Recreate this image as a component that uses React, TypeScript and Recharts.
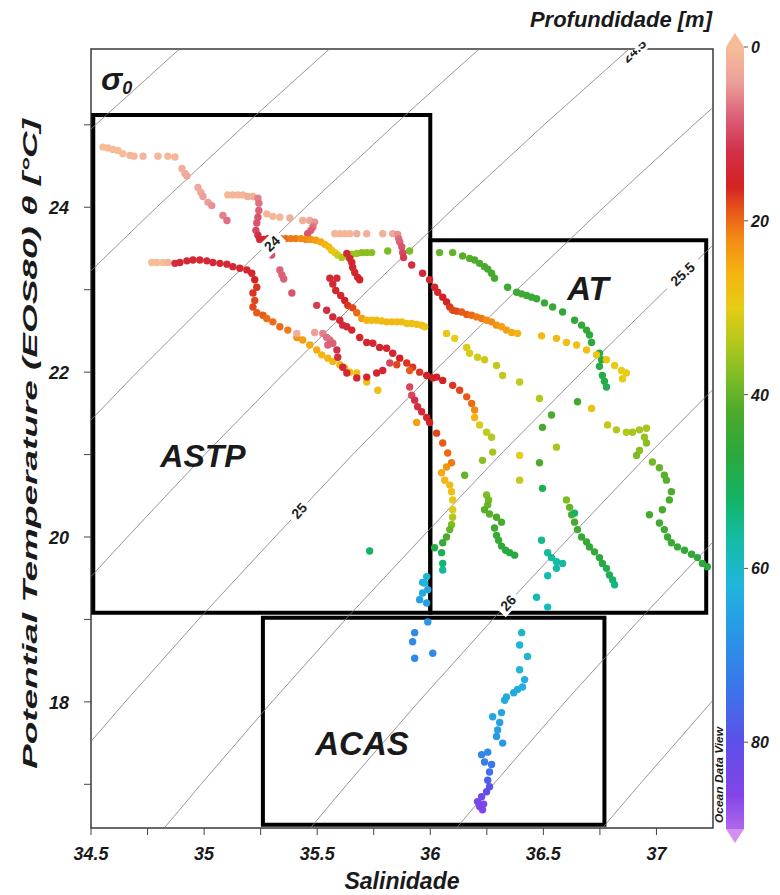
import React from 'react';
import { ScatterChart, Scatter, XAxis, YAxis, ReferenceArea, ReferenceDot } from 'recharts';

// [salinity, potential temperature, depth (m)]
type P = [number, number, number];

const castA: P[] = [
  [34.553, 24.73, 0], [34.575, 24.72, 0], [34.597, 24.7, 0], [34.619, 24.69, 0], [34.641, 24.65, 0],
  [34.672, 24.63, 1], [34.69, 24.62, 1], [34.73, 24.62, 1], [34.796, 24.62, 1], [34.84, 24.62, 1],
  [34.871, 24.61, 1], [34.902, 24.47, 2], [34.915, 24.41, 2], [34.924, 24.38, 3], [34.973, 24.24, 3],
  [34.986, 24.18, 3], [34.995, 24.13, 4], [35.017, 24.06, 4], [35.034, 24.02, 5], [35.083, 23.9, 6],
  [35.101, 23.84, 7],
];

const castB: P[] = [
  [35.105, 24.15, 1], [35.127, 24.15, 1], [35.149, 24.15, 1], [35.171, 24.15, 1], [35.193, 24.13, 2],
  [35.216, 24.13, 2], [35.238, 24.11, 6], [35.242, 24.05, 7], [35.242, 23.96, 8], [35.238, 23.88, 9],
  [35.233, 23.81, 9], [35.229, 23.72, 10], [35.238, 23.66, 12], [35.246, 23.61, 14], [35.264, 23.61, 15],
  [35.282, 23.62, 16], [35.299, 23.62, 17], [35.317, 23.62, 18], [35.339, 23.62, 19], [35.361, 23.62, 20],
  [35.383, 23.62, 21], [35.405, 23.62, 21], [35.428, 23.62, 22], [35.45, 23.61, 22], [35.472, 23.61, 23],
  [35.494, 23.6, 24], [35.516, 23.58, 25], [35.534, 23.55, 26], [35.551, 23.52, 27], [35.564, 23.48, 28],
  [35.578, 23.45, 30], [35.591, 23.42, 32], [35.609, 23.39, 34], [35.631, 23.41, 35], [35.653, 23.43, 36],
  [35.675, 23.44, 36], [35.697, 23.45, 37], [35.719, 23.45, 37], [35.741, 23.45, 37], [35.812, 23.47, 38],
  [35.909, 23.47, 38], [36.041, 23.45, 40], [36.099, 23.45, 40], [36.143, 23.41, 41], [36.174, 23.38, 41],
  [36.196, 23.36, 42], [36.218, 23.32, 42], [36.24, 23.28, 42], [36.254, 23.25, 43], [36.271, 23.2, 43],
  [36.284, 23.14, 43], [36.342, 23.03, 44], [36.382, 22.97, 44], [36.404, 22.95, 44], [36.426, 22.93, 44],
  [36.448, 22.91, 45], [36.47, 22.89, 45], [36.505, 22.84, 45], [36.541, 22.79, 45], [36.585, 22.73, 46],
  [36.638, 22.63, 46], [36.669, 22.57, 46], [36.691, 22.51, 46], [36.704, 22.45, 47], [36.713, 22.36, 47],
  [36.748, 22.23, 47], [36.757, 22.15, 48], [36.748, 22.07, 48], [36.761, 21.96, 48], [36.77, 21.89, 49],
  [36.779, 21.82, 49],
];

const castC: P[] = [
  [35.277, 23.92, 1], [35.304, 23.89, 1], [35.335, 23.88, 1], [35.379, 23.87, 2], [35.436, 23.84, 2],
  [35.467, 23.84, 3], [35.489, 23.82, 5], [35.481, 23.76, 7], [35.472, 23.72, 8], [35.458, 23.68, 9],
  [35.299, 23.42, 9], [35.335, 23.24, 8], [35.344, 23.18, 8], [35.352, 23.13, 8], [35.388, 22.96, 9],
];

const castD: P[] = [
  [35.578, 23.68, 1], [35.6, 23.68, 1], [35.622, 23.68, 1], [35.644, 23.68, 1], [35.675, 23.68, 2],
  [35.719, 23.68, 2], [35.79, 23.68, 2], [35.834, 23.68, 3], [35.856, 23.67, 5], [35.86, 23.62, 7],
  [35.865, 23.58, 8], [35.874, 23.52, 9], [35.878, 23.45, 10], [35.882, 23.39, 11], [35.918, 23.3, 13],
  [35.966, 23.2, 14], [35.997, 23.12, 15], [36.019, 23.03, 15], [36.033, 22.97, 15], [36.055, 22.91, 16],
  [36.072, 22.85, 16], [36.086, 22.79, 17], [36.099, 22.75, 18], [36.117, 22.74, 18], [36.139, 22.73, 19],
  [36.161, 22.7, 19], [36.183, 22.69, 20], [36.205, 22.67, 21], [36.227, 22.65, 21], [36.249, 22.63, 22],
  [36.271, 22.61, 22], [36.293, 22.57, 23], [36.315, 22.55, 24], [36.337, 22.51, 24], [36.36, 22.48, 25],
  [36.386, 22.47, 26], [36.492, 22.44, 27], [36.558, 22.41, 27], [36.602, 22.36, 28], [36.647, 22.33, 28],
  [36.691, 22.27, 28], [36.735, 22.21, 29], [36.779, 22.15, 29], [36.815, 22.08, 30], [36.845, 22.02, 30],
  [36.867, 21.99, 30], [36.85, 21.92, 30],
];

const castF: P[] = [
  [34.769, 23.33, 0], [34.792, 23.33, 0], [34.818, 23.33, 0], [34.84, 23.33, 1], [34.871, 23.32, 13],
  [34.893, 23.33, 14], [34.924, 23.35, 14], [34.951, 23.36, 14], [34.981, 23.36, 14], [35.012, 23.35, 14],
  [35.039, 23.33, 14], [35.07, 23.32, 14], [35.101, 23.31, 14], [35.127, 23.28, 14], [35.158, 23.26, 15],
  [35.189, 23.24, 15], [35.211, 23.2, 15], [35.224, 23.12, 16], [35.233, 23.03, 17], [35.216, 22.96, 17],
  [35.224, 22.87, 18], [35.216, 22.79, 18], [35.233, 22.72, 19], [35.26, 22.69, 19], [35.277, 22.65, 20],
  [35.304, 22.61, 20], [35.335, 22.55, 20], [35.37, 22.51, 21], [35.41, 22.42, 23], [35.436, 22.39, 24],
  [35.467, 22.33, 25], [35.498, 22.27, 25], [35.52, 22.21, 26], [35.547, 22.17, 26], [35.569, 22.13, 27],
  [35.6, 22.09, 27], [35.622, 22.05, 27], [35.644, 22.0, 28], [35.675, 21.99, 28], [35.719, 21.88, 28],
  [35.768, 21.78, 28],
];

const castG: P[] = [
  [35.556, 23.14, 14], [35.587, 23.14, 14], [35.569, 23.07, 14], [35.582, 22.99, 15], [35.604, 22.93, 15],
  [35.622, 22.87, 16], [35.635, 22.81, 17], [35.657, 22.78, 18], [35.675, 22.72, 20], [35.697, 22.65, 24],
  [35.719, 22.63, 26], [35.741, 22.63, 27], [35.763, 22.63, 27], [35.785, 22.62, 27], [35.807, 22.61, 27],
  [35.83, 22.61, 27], [35.852, 22.61, 27], [35.874, 22.61, 27], [35.896, 22.59, 28], [35.918, 22.59, 28],
  [35.94, 22.58, 28], [35.962, 22.57, 28], [35.975, 22.55, 29], [36.072, 22.47, 29], [36.108, 22.41, 30],
  [36.161, 22.3, 31], [36.174, 22.23, 31], [36.209, 22.18, 32], [36.24, 22.15, 32], [36.293, 22.08, 33],
  [36.32, 21.96, 33], [36.395, 21.88, 33], [36.483, 21.68, 34], [36.713, 21.56, 28], [36.784, 21.36, 33],
  [36.823, 21.3, 34], [36.867, 21.27, 34], [36.894, 21.27, 35], [36.925, 21.3, 35], [36.956, 21.32, 35],
  [36.947, 21.21, 36], [36.956, 21.14, 37], [36.925, 21.05, 37], [36.912, 20.99, 38], [36.982, 20.91, 39],
  [37.013, 20.84, 40], [37.035, 20.75, 41], [37.044, 20.69, 41], [37.066, 20.55, 42], [37.057, 20.45, 42],
  [37.026, 20.33, 43], [36.969, 20.27, 43], [37.013, 20.17, 44], [37.035, 20.09, 44], [37.049, 20.0, 45],
  [37.066, 19.93, 45], [37.093, 19.88, 45], [37.124, 19.84, 46], [37.155, 19.79, 46], [37.181, 19.75, 46],
  [37.203, 19.68, 47], [37.225, 19.64, 47],
];

const castH: P[] = [
  [35.498, 22.81, 11], [35.542, 22.75, 13], [35.569, 22.67, 14], [35.6, 22.63, 14], [35.613, 22.57, 14],
  [35.631, 22.55, 14], [35.653, 22.51, 15], [35.688, 22.42, 15], [35.719, 22.36, 15], [35.746, 22.35, 15],
  [35.776, 22.3, 15], [35.807, 22.29, 15], [35.834, 22.23, 15], [35.865, 22.17, 16], [35.896, 22.11, 17],
  [35.922, 22.06, 17], [35.953, 22.0, 17], [35.984, 21.96, 16], [36.011, 21.93, 16], [36.028, 21.94, 16],
  [36.055, 21.9, 16], [36.099, 21.84, 17], [36.13, 21.78, 18], [36.161, 21.7, 19], [36.183, 21.62, 20],
  [36.196, 21.54, 22], [36.196, 21.45, 26], [36.218, 21.36, 31], [36.249, 21.27, 33], [36.271, 21.21, 34],
  [36.276, 21.03, 35], [36.231, 20.93, 37], [36.152, 20.75, 40],
];

const castI: P[] = [
  [35.489, 22.48, 4], [35.41, 22.47, 2], [35.525, 22.47, 6], [35.542, 22.42, 7], [35.556, 22.39, 7],
  [35.547, 22.33, 8], [35.569, 22.35, 8], [35.587, 22.27, 12], [35.591, 22.18, 13], [35.613, 22.06, 14],
  [35.631, 21.99, 14], [35.675, 21.93, 15], [35.719, 21.94, 15], [35.763, 21.99, 15], [35.79, 22.02, 15],
  [35.821, 22.11, 10], [35.852, 22.09, 18], [35.909, 22.02, 19],
];

const castE: P[] = [
  [35.909, 21.82, 10], [35.918, 21.72, 10], [35.931, 21.66, 12], [35.944, 21.58, 13], [35.962, 21.52, 14],
  [35.984, 21.45, 15], [35.997, 21.39, 16], [35.94, 21.39, 24], [36.028, 21.26, 18], [36.055, 21.14, 19],
  [36.077, 21.02, 20], [36.094, 20.9, 21], [36.072, 20.85, 23], [36.05, 20.78, 25], [36.064, 20.69, 26],
  [36.086, 20.63, 27], [36.094, 20.55, 28], [36.099, 20.45, 29], [36.099, 20.33, 31], [36.099, 20.24, 34],
  [36.094, 20.15, 38], [36.086, 20.09, 40], [36.072, 20.0, 42], [36.055, 19.93, 45], [36.05, 19.81, 50],
  [36.055, 19.68, 53], [36.055, 19.6, 56], [35.984, 19.52, 61], [35.966, 19.45, 63], [35.989, 19.36, 65],
  [35.975, 19.44, 62], [35.966, 19.32, 64], [35.953, 19.24, 66], [35.984, 19.2, 66], [35.989, 18.97, 68],
  [35.931, 18.84, 70], [35.922, 18.73, 70], [35.931, 18.53, 70], [36.011, 18.59, 70],
];

const castN: P[] = [
  [35.631, 23.44, 14], [35.644, 23.38, 14], [35.653, 23.33, 15], [35.657, 23.27, 15], [35.666, 23.21, 15],
  [35.679, 23.15, 16], [35.688, 23.12, 16],
];

const castL: P[] = [
  [36.536, 21.48, 42], [36.496, 21.33, 43], [36.558, 21.09, 35], [36.651, 21.64, 44], [36.483, 20.9, 42],
  [36.496, 20.59, 50], [36.395, 20.99, 30], [36.395, 20.69, 33], [35.732, 19.83, 52], [36.019, 19.87, 48],
];

const castJ: P[] = [
  [36.249, 20.51, 38], [36.258, 20.45, 39], [36.254, 20.39, 40], [36.24, 20.33, 41], [36.262, 20.28, 41],
  [36.293, 20.24, 42], [36.315, 20.18, 43], [36.284, 20.11, 44], [36.293, 20.02, 45], [36.302, 19.96, 45],
  [36.315, 19.89, 46], [36.333, 19.84, 47], [36.351, 19.81, 48], [36.373, 19.78, 48],
];

const castK: P[] = [
  [36.602, 20.45, 38], [36.616, 20.36, 40], [36.625, 20.27, 42], [36.638, 20.18, 43], [36.651, 20.09, 44],
  [36.669, 20.0, 45], [36.691, 19.94, 45], [36.704, 19.88, 46], [36.726, 19.82, 46], [36.748, 19.75, 47],
  [36.761, 19.68, 48], [36.779, 19.62, 49], [36.792, 19.54, 50], [36.806, 19.48, 52], [36.815, 19.42, 54],
  [36.638, 20.29, 52],
];

const castT: P[] = [
  [36.492, 19.96, 55], [36.519, 19.81, 56], [36.536, 19.75, 56], [36.558, 19.7, 57], [36.585, 19.68, 56],
  [36.558, 19.62, 57], [36.519, 19.53, 58], [36.47, 19.27, 58], [36.519, 19.15, 59],
];

const castM: P[] = [
  [36.404, 18.84, 60], [36.395, 18.69, 61], [36.43, 18.55, 61], [36.395, 18.39, 62], [36.417, 18.27, 63],
  [36.408, 18.18, 63], [36.386, 18.15, 63], [36.369, 18.11, 64], [36.337, 18.06, 64], [36.329, 18.02, 64],
  [36.315, 17.87, 65], [36.276, 17.82, 65], [36.307, 17.75, 66], [36.298, 17.66, 66], [36.293, 17.58, 67],
  [36.32, 17.5, 67], [36.254, 17.39, 70], [36.227, 17.36, 71], [36.24, 17.27, 72], [36.271, 17.24, 73],
  [36.262, 17.15, 75], [36.254, 17.05, 77], [36.262, 16.97, 79], [36.249, 16.91, 81], [36.227, 16.85, 83],
  [36.209, 16.79, 84], [36.218, 16.73, 85], [36.231, 16.69, 86], [36.236, 16.76, 85],
];

const CASTS = [castA, castC, castB, castD, castF, castN, castG, castH, castI, castE, castL, castJ, castK, castT, castM];

// sigma-0 isopycnals [salinity, temperature]
const iso23 = [[34.5, 24.95], [34.891, 25.92]];
const iso235 = [[34.5, 23.23], [34.79, 24], [35.181, 25], [35.554, 25.92]];
const iso24 = [[34.5, 21.42], [34.704, 22], [35.07, 23], [35.449, 24], [35.842, 25], [36.216, 25.92]];
const iso245 = [[34.5, 19.52], [34.661, 20], [35.003, 21], [35.359, 22], [35.727, 23], [36.108, 24], [36.503, 25], [36.879, 25.92]];
const iso25 = [[34.5, 17.52], [34.651, 18], [34.975, 19], [35.313, 20], [35.657, 21], [36.014, 22], [36.384, 23], [36.767, 24], [37.164, 25], [37.25, 25.21]];
const iso255 = [[34.824, 16.47], [34.986, 17], [35.3, 18], [35.625, 19], [35.965, 20], [36.31, 21], [36.67, 22], [37.042, 23], [37.25, 23.54]];
const iso26 = [[35.47, 16.47], [35.632, 17], [35.948, 18], [36.276, 19], [36.617, 20], [36.964, 21], [37.25, 21.79]];
const iso265 = [[36.116, 16.47], [36.279, 17], [36.596, 18], [36.926, 19], [37.25, 19.94]];
const iso27 = [[36.761, 16.47], [36.926, 17], [37.25, 18.02]];
const ISOPYCNALS = [iso23, iso235, iso24, iso245, iso25, iso255, iso26, iso265, iso27];

const isoLabels = [
  { text: '24', s: 35.3, t: 23.56, angle: -44 },
  { text: '24.5', s: 36.9, t: 25.9, angle: -43 },
  { text: '25', s: 35.42, t: 20.32, angle: -47 },
  { text: '25.5', s: 37.115, t: 23.19, angle: -43 },
  { text: '26', s: 36.344, t: 19.2, angle: -47 },
];

const X_TICKS = [34.5, 34.75, 35, 35.25, 35.5, 35.75, 36, 36.25, 36.5, 36.75, 37];
const Y_TICKS = [17, 18, 19, 20, 21, 22, 23, 24, 25];
const DEPTH_TICKS = [0, 20, 40, 60, 80];

const DEPTH_STOPS: [number, string][] = [
  [0, '#f6bc98'], [4, '#eca09a'], [8, '#dc6078'], [12, '#d23048'], [16, '#d42224'],
  [19, '#e85a18'], [22, '#f28a14'], [26, '#f5b412'], [30, '#e6cc14'], [34, '#b4c81c'],
  [38, '#7cbc24'], [42, '#4caa2c'], [47, '#2ca83c'], [52, '#14b464'], [57, '#14bca8'],
  [62, '#20b4dc'], [68, '#2a94e8'], [74, '#3c74ea'], [80, '#5c50e8'], [86, '#8244e8'],
  [90, '#b068ea'], [93, '#d490f0'],
];

const rgb = (h: string) => [1, 3, 5].map((i) => parseInt(h.slice(i, i + 2), 16));
function depthColor(d: number): string {
  if (d <= DEPTH_STOPS[0][0]) return DEPTH_STOPS[0][1];
  for (let i = 1; i < DEPTH_STOPS.length; i++) {
    const [d1, c1] = DEPTH_STOPS[i];
    if (d <= d1) {
      const [d0, c0] = DEPTH_STOPS[i - 1];
      const f = (d - d0) / (d1 - d0);
      const a = rgb(c0);
      const b = rgb(c1);
      return `rgb(${a.map((v, k) => Math.round(v + (b[k] - v) * f)).join(',')})`;
    }
  }
  return DEPTH_STOPS[DEPTH_STOPS.length - 1][1];
}

const FONT = '"Liberation Sans", Arial, Helvetica, sans-serif';
const boldItalic = { fontFamily: FONT, fontWeight: 700, fontStyle: 'italic' as const, fill: '#1a1a1a' };

const PLOT_TOP = 49;

const XTick = (props: any) => {
  const { x, y, payload } = props;
  const v = payload.value;
  const major = Math.abs(v * 2 - Math.round(v * 2)) < 1e-6;
  return (
    <g>
      <line x1={x} x2={x} y1={y} y2={y + 7} stroke="#444" strokeWidth={1} />
      {major && (
        <text x={x} y={y + 32} textAnchor="middle" fontSize={18} {...boldItalic}>
          {String(v)}
        </text>
      )}
    </g>
  );
};

const YTick = (props: any) => {
  const { x, y, payload } = props;
  const v = payload.value;
  const major = v % 2 === 0;
  return (
    <g>
      <line x1={x} x2={x - 7} y1={y} y2={y} stroke="#444" strokeWidth={1} />
      {major && (
        <text x={x - 22} y={y + 7} textAnchor="end" fontSize={18} {...boldItalic}>
          {String(v)}
        </text>
      )}
    </g>
  );
};

const dot = (p: any) => (
  <circle cx={p.cx} cy={p.cy} r={3.7} fill={depthColor(p.payload.d)} />
);

const IsoLabel = ({ cx, cy, text, angle }: any) => (
  <g>
    <defs>
      <clipPath id={`isoclip-${text}`}>
        <rect x={0} y={PLOT_TOP + 1} width={780} height={780} />
      </clipPath>
    </defs>
    <g clipPath={`url(#isoclip-${text})`} transform={`rotate(${angle} ${cx} ${cy})`}>
      <rect x={cx - text.length * 4.5 - 3} y={cy - 8} width={text.length * 9 + 6} height={16} fill="#fff" />
      <text x={cx} y={cy + 5} textAnchor="middle" fontSize={14} fontFamily={FONT} fontWeight={700} fill="#222">
        {text}
      </text>
    </g>
  </g>
);

const CB_X = 726;
const CB_W = 18;
const CB_TOP = 47;
const CB_PX = 8.69;
const CB_MAX = 90;

export default function App() {
  const cbBottom = CB_TOP + CB_MAX * CB_PX;
  return (
    <div style={{ position: 'relative', width: 780, height: 895, margin: '-8px 0 0 -8px', background: '#fff' }}>
      <ScatterChart width={780} height={895} margin={{ top: PLOT_TOP, right: 67, bottom: 7, left: 31 }}>
        <XAxis
          type="number"
          dataKey="s"
          domain={[34.5, 37.25]}
          ticks={X_TICKS}
          interval={0}
          allowDataOverflow
          axisLine={false}
          tickLine={false}
          tickSize={0}
          tickMargin={0}
          height={60}
          tick={<XTick />}
        />
        <YAxis
          type="number"
          dataKey="t"
          domain={[16.47, 25.92]}
          ticks={Y_TICKS}
          interval={0}
          allowDataOverflow
          axisLine={false}
          tickLine={false}
          tickSize={0}
          tickMargin={0}
          width={60}
          tick={<YTick />}
        />
        {ISOPYCNALS.map((line, i) => (
          <Scatter
            key={`iso-${i}`}
            data={line.map(([s, t]) => ({ s, t }))}
            line={{ stroke: '#7c7c7c', strokeWidth: 0.8 }}
            lineType="joint"
            shape={() => <g />}
            isAnimationActive={false}
          />
        ))}
        {CASTS.map((cast, i) => (
          <Scatter
            key={`cast-${i}`}
            data={cast.map(([s, t, d]) => ({ s, t, d }))}
            shape={dot}
            isAnimationActive={false}
          />
        ))}
        {isoLabels.map((l) => (
          <ReferenceDot
            key={l.text}
            x={l.s}
            y={l.t}
            r={0}
            shape={(p: any) => <IsoLabel cx={p.cx} cy={p.cy} text={l.text} angle={l.angle} />}
          />
        ))}
        <ReferenceArea x1={34.5} x2={37.25} y1={16.47} y2={25.92} fill="none" stroke="#3a3a3a" strokeWidth={1.5} />
        <ReferenceArea x1={34.51} x2={36.0} y1={19.08} y2={25.12} fill="none" fillOpacity={0} stroke="#000" strokeWidth={4} />
        <ReferenceArea x1={36.0} x2={37.22} y1={19.08} y2={23.6} fill="none" fillOpacity={0} stroke="#000" strokeWidth={4} />
        <ReferenceArea x1={35.26} x2={36.77} y1={16.51} y2={19.02} fill="none" fillOpacity={0} stroke="#000" strokeWidth={4} />
      </ScatterChart>

      <svg width={780} height={895} style={{ position: 'absolute', left: 0, top: 0, pointerEvents: 'none' }}>
        <defs>
          <linearGradient id="depthGrad" x1="0" y1="0" x2="0" y2="1">
            {DEPTH_STOPS.map(([d, c]) => (
              <stop key={d} offset={Math.min(d / CB_MAX, 1)} stopColor={c} />
            ))}
          </linearGradient>
        </defs>
        <text x={712} y={27} textAnchor="end" fontSize={22} {...boldItalic}>
          Profundidade [m]
        </text>
        <polygon points={`${CB_X},${CB_TOP} ${CB_X + CB_W},${CB_TOP} ${CB_X + CB_W / 2},${CB_TOP - 14}`} fill={depthColor(0)} />
        <rect x={CB_X} y={CB_TOP} width={CB_W} height={cbBottom - CB_TOP} fill="url(#depthGrad)" />
        <polygon points={`${CB_X},${cbBottom} ${CB_X + CB_W},${cbBottom} ${CB_X + CB_W / 2},${cbBottom + 14}`} fill="#d490f0" />
        {DEPTH_TICKS.map((d) => (
          <g key={d}>
            <line x1={CB_X + CB_W} x2={CB_X + CB_W + 4} y1={CB_TOP + d * CB_PX} y2={CB_TOP + d * CB_PX} stroke="#555" />
            <text x={CB_X + CB_W + 7} y={CB_TOP + d * CB_PX + 6} fontSize={16} {...boldItalic}>
              {d}
            </text>
          </g>
        ))}
        <text
          x={723}
          y={775}
          transform="rotate(-90 723 775)"
          textAnchor="middle"
          fontSize={10}
          textLength={96}
          lengthAdjust="spacingAndGlyphs"
          {...boldItalic}
        >
          Ocean Data View
        </text>
        <text
          x={37}
          y={444}
          transform="rotate(-90 37 444)"
          textAnchor="middle"
          fontSize={20}
          textLength={650}
          lengthAdjust="spacingAndGlyphs"
          {...boldItalic}
        >
          Potential Temperature (EOS80) θ [°C]
        </text>
        <text x={402} y={889} textAnchor="middle" fontSize={23} {...boldItalic}>
          Salinidade
        </text>
        <text x={101} y={90} fontSize={32} {...boldItalic}>
          σ<tspan fontSize={18} dy={4}>0</tspan>
        </text>
        <text x={203} y={467} textAnchor="middle" fontSize={32} {...boldItalic}>
          ASTP
        </text>
        <text x={588} y={300} textAnchor="middle" fontSize={33} {...boldItalic}>
          AT
        </text>
        <text x={362} y={755} textAnchor="middle" fontSize={33} {...boldItalic}>
          ACAS
        </text>
      </svg>
    </div>
  );
}
